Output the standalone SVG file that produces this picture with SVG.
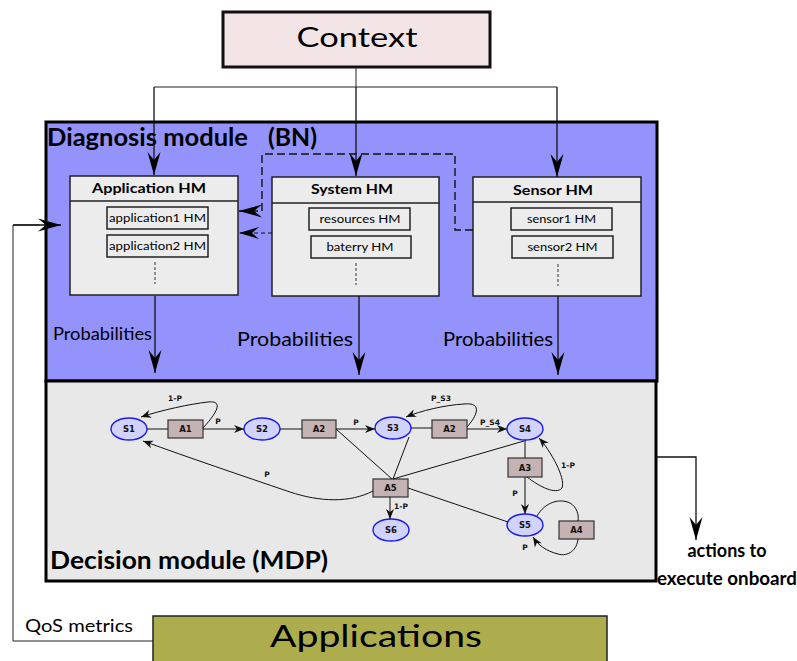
<svg xmlns="http://www.w3.org/2000/svg" width="797" height="661" viewBox="0 0 797 661">
<style>
.t{font-family:Lato,"Liberation Sans",sans-serif;fill:#000}
.b{font-weight:bold}
.hm{fill:#ececec;stroke:#222;stroke-width:1.5}
.in{fill:#ececec;stroke:#222;stroke-width:1.5}
.ln{fill:none;stroke:#111;stroke-width:1.3}
.thin{fill:none;stroke:#222;stroke-width:1}
.st{fill:#d2d2ff;stroke:#1a1aee;stroke-width:1.4}
.ac{fill:#c5b3b3;stroke:#333;stroke-width:1.2}
.e{fill:none;stroke:#111;stroke-width:1}
.m{font-family:"DejaVu Sans",sans-serif;font-weight:bold;font-size:8.5px;fill:#111;text-anchor:middle}
.ml{font-family:"DejaVu Sans",sans-serif;font-weight:bold;font-size:7.5px;fill:#111;text-anchor:middle}
</style>
<defs>
<marker id="big" markerUnits="userSpaceOnUse" markerWidth="26" markerHeight="16" viewBox="-24 -8 26 16" refX="0" refY="0" orient="auto">
<path d="M0,0 L-23,-6.5 L-15,0 L-23,6.5 Z" fill="#000"/>
</marker>
<marker id="mid" markerUnits="userSpaceOnUse" markerWidth="24" markerHeight="14" viewBox="-22 -7 24 14" refX="0" refY="0" orient="auto">
<path d="M0,0 L-20,-6 L-13,0 L-20,6 Z" fill="#000"/>
</marker>
<marker id="sm" markerUnits="userSpaceOnUse" markerWidth="12" markerHeight="10" viewBox="-11 -5 12 10" refX="0" refY="0" orient="auto">
<path d="M0,0 L-10,-4 L-7,0 L-10,4 Z" fill="#111"/>
</marker>
</defs>

<g id="diagnosis-module">
<rect x="46" y="122" width="611" height="259" fill="#9393fb" stroke="#000" stroke-width="3"/>
<text class="t b" x="47" y="146" font-size="25" textLength="201" lengthAdjust="spacingAndGlyphs">Diagnosis module</text>
<text class="t b" x="268" y="146" font-size="25" textLength="49" lengthAdjust="spacingAndGlyphs">(BN)</text>
</g>
<g id="decision-module">
<rect x="46" y="381" width="610" height="200" fill="#e8e8e8" stroke="#000" stroke-width="3"/>
<text class="t b" x="50" y="569" font-size="24" textLength="278" lengthAdjust="spacingAndGlyphs">Decision module (MDP)</text>
</g>

<g id="context">
<rect x="223" y="12" width="267" height="55" fill="#f3e5e5" stroke="#111" stroke-width="3"/>
<text class="t" x="357" y="47" font-size="27" text-anchor="middle" textLength="121" lengthAdjust="spacingAndGlyphs">Context</text>
</g>

<g id="application-hm">
<rect class="hm" x="70" y="176" width="168" height="119"/>
<line x1="70" y1="201" x2="238" y2="201" stroke="#222" stroke-width="1.5"/>
<text class="t b" x="149" y="193" font-size="14" text-anchor="middle" textLength="114" lengthAdjust="spacingAndGlyphs">Application HM</text>
<rect class="in" x="107" y="207" width="101" height="22"/>
<text class="t" x="157.5" y="222" font-size="12" text-anchor="middle" textLength="97" lengthAdjust="spacingAndGlyphs">application1 HM</text>
<rect class="in" x="107" y="235" width="101" height="22"/>
<text class="t" x="157.5" y="250" font-size="12" text-anchor="middle" textLength="97" lengthAdjust="spacingAndGlyphs">application2 HM</text>
<line x1="155" y1="262" x2="155" y2="284" stroke="#333" stroke-width="1" stroke-dasharray="3,2"/>
</g>

<g id="system-hm">
<rect class="hm" x="272" y="177" width="167" height="119"/>
<line x1="272" y1="203" x2="439" y2="203" stroke="#222" stroke-width="1.5"/>
<text class="t b" x="352" y="194" font-size="14" text-anchor="middle" textLength="82" lengthAdjust="spacingAndGlyphs">System HM</text>
<rect class="in" x="309" y="208" width="101" height="22"/>
<text class="t" x="360" y="223" font-size="12" text-anchor="middle" textLength="81" lengthAdjust="spacingAndGlyphs">resources HM</text>
<rect class="in" x="311" y="236" width="100" height="22"/>
<text class="t" x="360" y="251" font-size="12" text-anchor="middle" textLength="67" lengthAdjust="spacingAndGlyphs">baterry HM</text>
<line x1="356" y1="263" x2="356" y2="285" stroke="#333" stroke-width="1" stroke-dasharray="3,2"/>
</g>

<g id="sensor-hm">
<rect class="hm" x="473" y="177" width="168" height="119"/>
<line x1="473" y1="202" x2="641" y2="202" stroke="#222" stroke-width="1.5"/>
<text class="t b" x="553" y="195" font-size="14" text-anchor="middle" textLength="80" lengthAdjust="spacingAndGlyphs">Sensor HM</text>
<rect class="in" x="511" y="208" width="101" height="22"/>
<text class="t" x="561.5" y="223" font-size="12" text-anchor="middle" textLength="69" lengthAdjust="spacingAndGlyphs">sensor1 HM</text>
<rect class="in" x="512" y="236" width="101" height="22"/>
<text class="t" x="562.5" y="251" font-size="12" text-anchor="middle" textLength="70" lengthAdjust="spacingAndGlyphs">sensor2 HM</text>
<line x1="558" y1="264" x2="558" y2="286" stroke="#333" stroke-width="1" stroke-dasharray="3,2"/>
</g>

<g id="applications">
<rect x="153" y="616" width="454" height="50" fill="#adad4e" stroke="#222" stroke-width="1.5"/>
<text class="t" x="376" y="647" font-size="30" text-anchor="middle" textLength="212" lengthAdjust="spacingAndGlyphs">Applications</text>
</g>

<g id="mdp-nodes">
<g id="S1"><ellipse class="st" cx="129" cy="429" rx="18" ry="11"/><text class="m" x="129" y="432">S1</text></g>
<g id="A1"><rect class="ac" x="168" y="420" width="35" height="18"/><text class="m" x="185.5" y="432">A1</text></g>
<g id="S2"><ellipse class="st" cx="262" cy="429" rx="18" ry="11"/><text class="m" x="262" y="432">S2</text></g>
<g id="A2a"><rect class="ac" x="302" y="420" width="34" height="18"/><text class="m" x="319" y="432">A2</text></g>
<g id="S3"><ellipse class="st" cx="393" cy="428" rx="18" ry="11"/><text class="m" x="393" y="431">S3</text></g>
<g id="A2b"><rect class="ac" x="432" y="420" width="35" height="18"/><text class="m" x="449.5" y="432">A2</text></g>
<g id="S4"><ellipse class="st" cx="525" cy="429" rx="18" ry="11"/><text class="m" x="525" y="432">S4</text></g>
<g id="A3"><rect class="ac" x="508" y="458" width="34" height="19"/><text class="m" x="525" y="471">A3</text></g>
<g id="A5"><rect class="ac" x="373" y="479" width="35" height="18"/><text class="m" x="390.5" y="491">A5</text></g>
<g id="S6"><ellipse class="st" cx="391" cy="530" rx="18" ry="11"/><text class="m" x="391" y="533">S6</text></g>
<g id="S5"><ellipse class="st" cx="525" cy="525" rx="18" ry="11"/><text class="m" x="525" y="528">S5</text></g>
<g id="A4"><rect class="ac" x="559" y="521" width="35" height="18"/><text class="m" x="576.5" y="533">A4</text></g>
</g>

<g id="connectors">
<path class="thin" d="M356,67 V87 M154,87 H557"/>
<path class="ln" d="M154,87 V175" marker-end="url(#big)"/>
<path class="ln" d="M356,87 V176" marker-end="url(#big)"/>
<path class="ln" d="M557,87 V177" marker-end="url(#big)"/>
<path fill="none" stroke="#111" stroke-width="1.4" stroke-dasharray="8,4" d="M473,230 H455 V154 H262 V211 H239" marker-end="url(#big)"/>
<path fill="none" stroke="#111" stroke-width="1.2" stroke-dasharray="4,3" d="M272,233 H239" marker-end="url(#mid)"/>
<path class="ln" d="M155,296 V373" marker-end="url(#big)"/>
<path class="ln" d="M359,296 V375" marker-end="url(#big)"/>
<path class="ln" d="M558,296 V375" marker-end="url(#big)"/>
<text class="t" x="53" y="340" font-size="18" textLength="99" lengthAdjust="spacingAndGlyphs">Probabilities</text>
<text class="t" x="237" y="346" font-size="20" textLength="116" lengthAdjust="spacingAndGlyphs">Probabilities</text>
<text class="t" x="443" y="346" font-size="20" textLength="110" lengthAdjust="spacingAndGlyphs">Probabilities</text>
<path class="thin" d="M153,641 H13 V225 H40" stroke-width="1.2"/>
<path class="ln" d="M13,225 H61" marker-end="url(#big)"/>
<text class="t" x="25" y="632" font-size="18" textLength="108" lengthAdjust="spacingAndGlyphs">QoS metrics</text>
<path class="ln" d="M656,457 H696 V540" marker-end="url(#big)" stroke-width="1.1"/>
<text class="t b" x="727" y="557" font-size="18" text-anchor="middle" textLength="79" lengthAdjust="spacingAndGlyphs">actions to</text>
<text class="t b" x="657" y="585" font-size="18" textLength="140" lengthAdjust="spacingAndGlyphs">execute onboard</text>

<line class="e" x1="147" y1="429" x2="168" y2="429"/>
<line class="e" x1="203" y1="429" x2="244" y2="429" marker-end="url(#sm)"/>
<path class="e" d="M203,428 C214,416 226,400 208,402 C190,404 162,410 141,417" marker-end="url(#sm)"/>
<line class="e" x1="280" y1="429" x2="302" y2="429"/>
<line class="e" x1="336" y1="429" x2="375" y2="429" marker-end="url(#sm)"/>
<line class="e" x1="411" y1="428" x2="432" y2="428"/>
<line class="e" x1="467" y1="429" x2="507" y2="429" marker-end="url(#sm)"/>
<path class="e" d="M467,427 C476,417 484,402 464,404 C445,405 420,411 406,417" marker-end="url(#sm)"/>
<line class="e" x1="336" y1="429" x2="392" y2="479"/>
<line class="e" x1="409" y1="437" x2="393" y2="479"/>
<line class="e" x1="524" y1="441" x2="393" y2="479"/>
<line class="e" x1="525" y1="440" x2="525" y2="458"/>
<line class="e" x1="525" y1="477" x2="525" y2="514" marker-end="url(#sm)"/>
<path class="e" d="M527,477 C540,487 556,495 562,488 C566,478 550,450 539,438" marker-end="url(#sm)"/>
<line class="e" x1="408" y1="488" x2="508" y2="522"/>
<line class="e" x1="390" y1="497" x2="390" y2="519" marker-end="url(#sm)"/>
<path class="e" d="M373,491 C350,503 320,502 290,492 C240,475 190,458 143,441" marker-end="url(#sm)"/>
<path class="e" d="M537,516 C545,502 560,498 570,503 C577,507 579,515 578,521"/>
<path class="e" d="M578,539 C577,550 568,557 558,554 C546,551 538,545 533,537" marker-end="url(#sm)"/>

<text class="ml" x="175" y="401">1-P</text>
<text class="ml" x="218" y="424">P</text>
<text class="ml" x="356" y="425">P</text>
<text class="ml" x="267" y="477">P</text>
<text class="ml" x="441" y="401">P_S3</text>
<text class="ml" x="490" y="425">P_S4</text>
<text class="ml" x="568" y="468">1-P</text>
<text class="ml" x="515" y="496">P</text>
<text class="ml" x="401" y="509">1-P</text>
<text class="ml" x="525" y="550">P</text>
</g>
</svg>
